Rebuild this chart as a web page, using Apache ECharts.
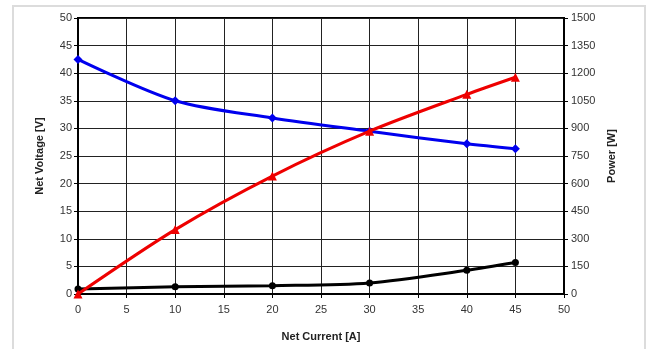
<!DOCTYPE html>
<html><head><meta charset="utf-8">
<script src="https://cdn.jsdelivr.net/npm/echarts@6/dist/echarts.min.js"></script>
<style>html,body{margin:0;padding:0;background:#fff}#c{width:653px;height:349px}</style>
</head><body><div id="c"></div>
<script>
const current = [0, 10, 20, 30, 40, 45];
const voltage = [42.5, 35.0, 31.9, 29.5, 27.2, 26.3];
const power = [0, 350, 641, 885, 1085, 1178];
const lowerSeries = [0.9, 1.3, 1.5, 2.0, 4.3, 5.7];
const xTicks = [0, 5, 10, 15, 20, 25, 30, 35, 40, 45, 50];
const leftTicks = [0, 5, 10, 15, 20, 25, 30, 35, 40, 45, 50];
const rightTicks = [0, 150, 300, 450, 600, 750, 900, 1050, 1200, 1350, 1500];

const pair = (xs, ys) => xs.map((x, i) => [x, ys[i]]);
const font = 'Liberation Sans, Arial, sans-serif';
const chart = echarts.init(document.getElementById('c'), null, {renderer: 'canvas'});
chart.setOption({
  animation: false,
  backgroundColor: '#fff',
  graphic: [{type: 'rect', shape: {x: 13, y: 6, width: 632, height: 360}, style: {fill: 'none', stroke: '#dcdcdc', lineWidth: 2}, silent: true}],
  grid: {left: 78, right: 89, top: 18, bottom: 55, show: true, borderColor: '#000', borderWidth: 2, backgroundColor: 'transparent'},
  xAxis: {
    type: 'value', min: xTicks[0], max: xTicks[xTicks.length - 1], interval: 5,
    name: 'Net Current [A]', nameLocation: 'middle', nameGap: 37,
    nameTextStyle: {fontFamily: font, fontSize: 11, fontWeight: 'bold', color: '#222'},
    axisLine: {show: true, lineStyle: {color: '#000', width: 2}},
    axisTick: {show: true, inside: false, length: 4, lineStyle: {color: '#000'}},
    axisLabel: {fontFamily: font, fontSize: 11, color: '#333', margin: 10},
    splitLine: {show: true, lineStyle: {color: '#222', width: 1}}
  },
  yAxis: [{
    type: 'value', min: leftTicks[0], max: leftTicks[leftTicks.length - 1], interval: 5,
    name: 'Net Voltage [V]', nameLocation: 'middle', nameGap: 33, nameRotate: 90,
    nameTextStyle: {fontFamily: font, fontSize: 11, fontWeight: 'bold', color: '#222'},
    axisLine: {show: true, lineStyle: {color: '#000', width: 2}},
    axisTick: {show: true, length: 4, lineStyle: {color: '#000'}},
    axisLabel: {fontFamily: font, fontSize: 11, color: '#333', margin: 6},
    splitLine: {show: true, lineStyle: {color: '#222', width: 1}}
  }, {
    type: 'value', position: 'right', min: rightTicks[0], max: rightTicks[rightTicks.length - 1], interval: 150,
    name: 'Power [W]', nameLocation: 'middle', nameGap: 42, nameRotate: 90,
    nameTextStyle: {fontFamily: font, fontSize: 11, fontWeight: 'bold', color: '#222'},
    axisLine: {show: true, lineStyle: {color: '#000', width: 2}},
    axisTick: {show: true, length: 4, lineStyle: {color: '#000'}},
    axisLabel: {fontFamily: font, fontSize: 11, color: '#333', margin: 7, formatter: v => String(v)},
    splitLine: {show: false}
  }],
  series: [{
    type: 'line', yAxisIndex: 0, data: pair(current, voltage), smooth: 0.3,
    symbol: 'diamond', symbolSize: 9, itemStyle: {color: '#0000ee'},
    lineStyle: {color: '#0000ee', width: 3}, z: 3
  }, {
    type: 'line', yAxisIndex: 1, data: pair(current, power), smooth: 0.3,
    symbol: 'triangle', symbolSize: 9, itemStyle: {color: '#ee0000'},
    lineStyle: {color: '#ee0000', width: 3}, z: 4
  }, {
    type: 'line', yAxisIndex: 0, data: pair(current, lowerSeries), smooth: 0.3,
    symbol: 'circle', symbolSize: 7, itemStyle: {color: '#000'},
    lineStyle: {color: '#000', width: 3}, z: 2
  }]
});
</script></body></html>
